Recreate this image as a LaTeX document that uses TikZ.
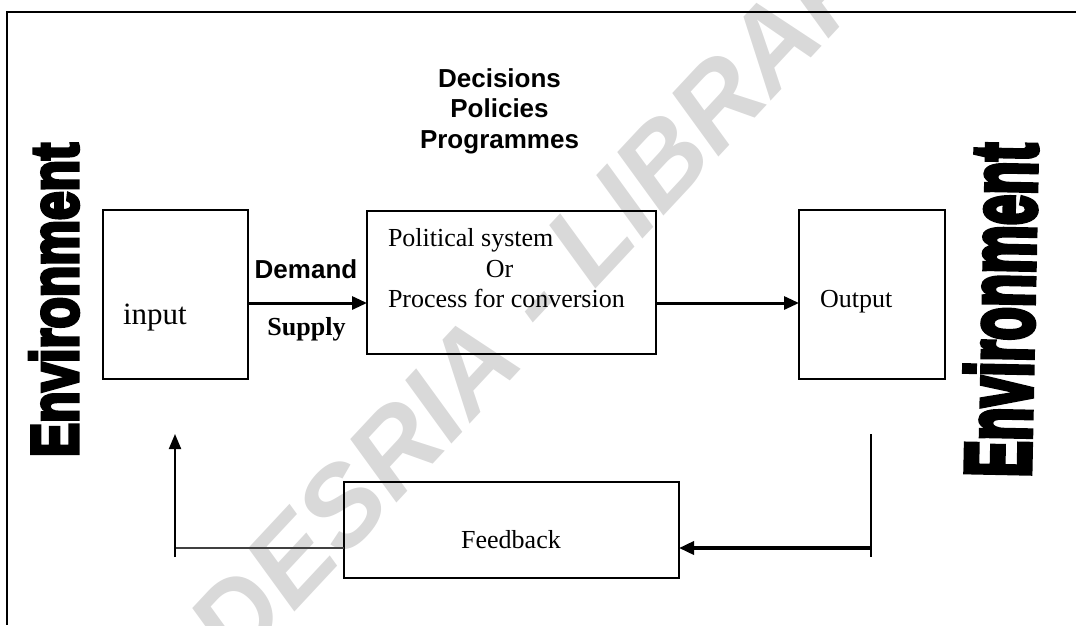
\documentclass[tikz,border=0pt]{standalone}
\usepackage{fontspec}
\setmainfont{Liberation Serif}
\setsansfont{Liberation Sans}
\newfontfamily\envfont[FakeBold=6]{Liberation Sans}
\usetikzlibrary{arrows.meta}

\begin{document}
\begin{tikzpicture}[x=1pt,y=-1pt,
  every node/.style={inner sep=0pt,outer sep=0pt},
  box/.style={draw,line width=2pt,minimum width=#1},
  txt/.style={font=\fontsize{26}{31}\selectfont},
  hdr/.style={font=\sffamily\bfseries\fontsize{26}{30}\selectfont},
  flow/.style={line width=3pt,-{Triangle[length=15pt,width=13pt]}},
  thinline/.style={line width=2pt},
  envlabel/.style={font=\envfont\bfseries}
]
\useasboundingbox (0,0) rectangle (1076,625);

% light diagonal stamp behind the drawing
\node[rotate=47,anchor=base,text=black!15,
      font=\sffamily\bfseries\itshape\fontsize{112}{112}\selectfont] (stamp) at (528,362)
      {CODESRIA - LIBRARY};

% outer frame
\draw[line width=1.8pt] (1076,12) -- (7,12) -- (7,625);

% side labels
\node[rotate=90,envlabel] (envL) at (54,300)
  {\resizebox{314pt}{48pt}{Environment}};
\node[rotate=88.8,envlabel] (envR) at (1000,310)
  {\resizebox{334pt}{67pt}{Environment}};

% heading over the system
\node[hdr,anchor=base] (dec) at (499.5,87) {Decisions};
\node[hdr,anchor=base] (pol) at (499.5,117.5) {Policies};
\node[hdr,anchor=base] (prg) at (499.5,148) {Programmes};

% boxes
\node[box=145pt,minimum height=169pt] (input)  at (175.5,294.5) {};
\node[box=289pt,minimum height=143pt] (system) at (511.5,282.5) {};
\node[box=146pt,minimum height=169pt] (output) at (872,294.5) {};
\node[box=335pt,minimum height=96pt]  (fb)     at (511.5,530) {};

% box texts
\node[font=\fontsize{31}{31}\selectfont,anchor=base west] (inTxt) at (123,324) {input};
\node[txt,anchor=base west] (ps1) at (388,246) {Political system};
\node[txt,anchor=base] (ps2) at (499.5,277) {Or};
\node[txt,anchor=base west] (ps3) at (388,307) {Process for conversion};
\node[txt,anchor=base west] (outTxt) at (820,307) {Output};
\node[txt,anchor=base] (fbTxt) at (511,548) {Feedback};

% forward flow
\coordinate (flowY) at (0,303);
\draw[flow] (input.east |- flowY) -- (system.west |- flowY);
\draw[flow] (system.east |- flowY) -- (output.west |- flowY);
\node[hdr,anchor=base] (demand) at (306,278) {Demand};
\node[font=\bfseries\fontsize{26}{31}\selectfont,anchor=base] (supply) at (306.5,335) {Supply};

% feedback loop
\coordinate (rTop) at (871,434);
\coordinate (rBot) at (871,557);
\coordinate (lTop) at (175,434);
\coordinate (lBot) at (175,557);
\coordinate (fbY)  at (0,548);
\draw[thinline] (rTop) -- (rBot);
\draw[line width=3.5pt,-{Triangle[length=15pt,width=13pt]}] (rTop |- fbY) -- (fb.east |- fbY);
\draw[thinline,black!75] (fb.west |- fbY) -- (lTop |- fbY);
\draw[thinline,-{Triangle[length=15pt,width=12pt]}] (lBot) -- (lTop);
\end{tikzpicture}
\end{document}
